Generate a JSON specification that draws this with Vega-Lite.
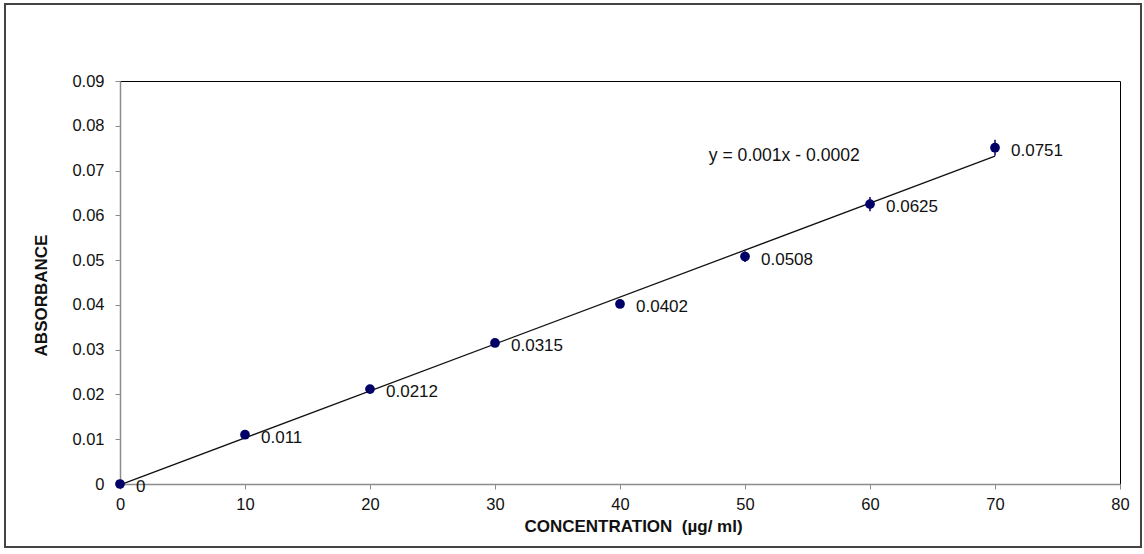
{
  "$schema": "https://vega.github.io/schema/vega-lite/v6.json",
  "width": 1000,
  "height": 403,
  "autosize": {"type": "none"},
  "padding": {"left": 120, "top": 81, "right": 24, "bottom": 70},
  "background": "#ffffff",
  "config": {
    "font": "Liberation Sans",
    "view": {"stroke": "#000000", "strokeWidth": 1},
    "axis": {
      "grid": false,
      "labelFlush": false,
      "domainColor": "#8c8c8c",
      "domainWidth": 1.5,
      "tickColor": "#8c8c8c",
      "tickSize": 5,
      "labelFont": "Liberation Sans",
      "labelFontSize": 16.5,
      "labelColor": "#111111",
      "titleFont": "Liberation Sans",
      "titleFontSize": 17,
      "titleFontWeight": "bold",
      "titleColor": "#111111"
    }
  },
  "datasets": {
    "points": [
      {"conc": 0, "abs": 0, "err": 0, "label": "0"},
      {"conc": 10, "abs": 0.011, "err": 0.0003, "label": "0.011"},
      {"conc": 20, "abs": 0.0212, "err": 0.0003, "label": "0.0212"},
      {"conc": 30, "abs": 0.0315, "err": 0.0004, "label": "0.0315"},
      {"conc": 40, "abs": 0.0402, "err": 0.0006, "label": "0.0402"},
      {"conc": 50, "abs": 0.0508, "err": 0.0012, "label": "0.0508"},
      {"conc": 60, "abs": 0.0625, "err": 0.0016, "label": "0.0625"},
      {"conc": 70, "abs": 0.0751, "err": 0.0018, "label": "0.0751"}
    ],
    "trend": [
      {"conc": 0, "abs": -0.0002},
      {"conc": 70, "abs": 0.0732}
    ],
    "equation": [
      {"conc": 47.1, "abs": 0.0733, "label": "y = 0.001x - 0.0002"}
    ]
  },
  "layer": [
    {
      "data": {"name": "trend"},
      "mark": {"type": "line", "color": "#111111", "strokeWidth": 1.3},
      "encoding": {
        "x": {
          "field": "conc", "type": "quantitative",
          "scale": {"domain": [0, 80], "nice": false},
          "axis": {
            "values": [0, 10, 20, 30, 40, 50, 60, 70, 80],
            "format": "d",
            "labelPadding": 7,
            "title": "CONCENTRATION \u00a0(µg/ ml)",
            "titleBaseline": "alphabetic",
            "titleX": 513,
            "titleY": 47
          }
        },
        "y": {
          "field": "abs", "type": "quantitative",
          "scale": {"domain": [0, 0.09], "nice": false, "zero": false},
          "axis": {
            "values": [0, 0.01, 0.02, 0.03, 0.04, 0.05, 0.06, 0.07, 0.08, 0.09],
            "format": ".2~f",
            "labelPadding": 11,
            "title": "ABSORBANCE",
            "titleAngle": -90,
            "titleAlign": "center",
            "titleBaseline": "middle",
            "titleX": -79,
            "titleY": 214
          }
        }
      }
    },
    {
      "data": {"name": "points"},
      "mark": {"type": "rule", "color": "#000066", "strokeWidth": 1.5},
      "encoding": {
        "x": {"field": "conc", "type": "quantitative"},
        "y": {"field": "lo", "type": "quantitative"},
        "y2": {"field": "hi"}
      },
      "transform": [
        {"calculate": "datum.abs - datum.err", "as": "lo"},
        {"calculate": "datum.abs + datum.err", "as": "hi"}
      ]
    },
    {
      "data": {"name": "points"},
      "mark": {"type": "circle", "size": 95, "color": "#000066", "opacity": 1},
      "encoding": {
        "x": {"field": "conc", "type": "quantitative"},
        "y": {"field": "abs", "type": "quantitative"}
      }
    },
    {
      "data": {"name": "points"},
      "mark": {"type": "text", "align": "left", "baseline": "middle", "dx": 16, "dy": 3, "fontSize": 17, "color": "#111111"},
      "encoding": {
        "x": {"field": "conc", "type": "quantitative"},
        "y": {"field": "abs", "type": "quantitative"},
        "text": {"field": "label"}
      }
    },
    {
      "data": {"name": "equation"},
      "mark": {"type": "text", "align": "left", "baseline": "middle", "fontSize": 17.6, "color": "#111111"},
      "encoding": {
        "x": {"field": "conc", "type": "quantitative"},
        "y": {"field": "abs", "type": "quantitative"},
        "text": {"field": "label"}
      }
    },
    {
      "data": {"values": [{}]},
      "mark": {"type": "rect", "fill": null, "fillOpacity": 0, "stroke": "#444444", "strokeWidth": 2},
      "encoding": {
        "x": {"value": -115},
        "x2": {"value": 1021},
        "y": {"value": -77},
        "y2": {"value": 466}
      }
    }
  ]
}
